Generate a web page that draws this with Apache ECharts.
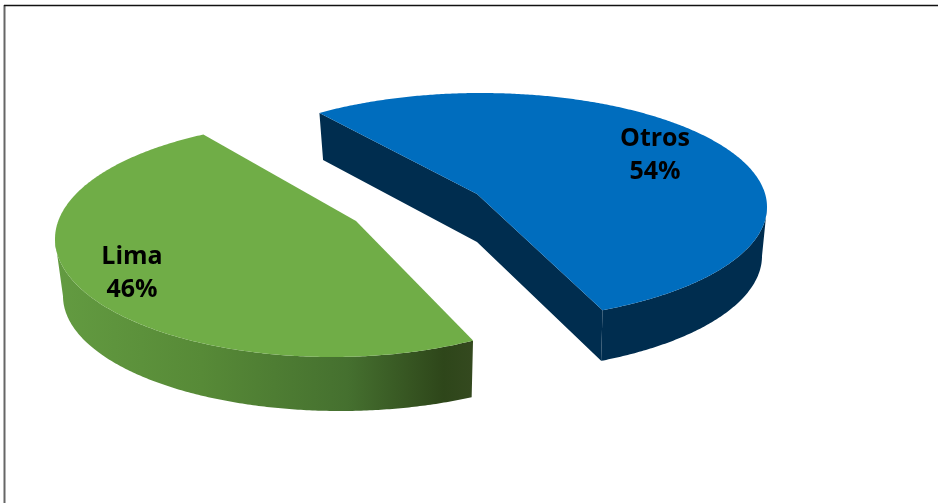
<!DOCTYPE html>
<html>
<head>
<meta charset="utf-8">
<style>html,body{margin:0;padding:0;background:#fff}#chart{width:938px;height:503px}</style>
<script src="https://cdn.jsdelivr.net/npm/echarts@6/dist/echarts.min.js"></script>
</head>
<body>
<div id="chart"></div>
<script>
// Share of the total per region
const categories = ['Otros', 'Lima'];
const shares = [54, 46];

// Angle (clockwise from straight up) where the first slice begins
const firstAngle = -37.8;

// Perspective layout of each exploded slice: rim ellipses of the top and
// bottom faces, the projected slice centre on each, and the label anchor.
const sliceLayout = {
  Otros: {
    top: { cx: 481, cy: 207, rx: 286, ry: 114, ax: 477, ay: 194 },
    bottom: { cx: 481, cy: 256, rx: 281, ry: 116, ax: 477, ay: 242 },
    twist: 0.2, label: [655, 155], color: '#006DBE', wall: '#002D4F', innerFaces: true
  },
  Lima: {
    top: { cx: 332, cy: 239, rx: 277, ry: 118, ax: 356, ay: 221 },
    bottom: { cx: 340, cy: 296, rx: 277, ry: 115, ax: 350, ay: 276 },
    twist: 1.2, label: [132, 273], color: '#70AD47',
    wall: new echarts.graphic.LinearGradient(0, 0, 1, 0, [
      { offset: 0, color: '#639B41' },
      { offset: 0.35, color: '#578A37' },
      { offset: 0.7, color: '#45702F' },
      { offset: 0.93, color: '#2E461A' },
      { offset: 1, color: '#34491F' }
    ]),
    innerFaces: false
  }
};

// Projective map of the unit disc onto a rim ellipse that sends the disc
// centre to the slice apex (relativistic velocity addition in the Klein model).
function projectRim(face, angleDeg) {
  const t = angleDeg * Math.PI / 180;
  const qx = Math.sin(t), qy = -Math.cos(t);
  const px = (face.ax - face.cx) / face.rx, py = (face.ay - face.cy) / face.ry;
  const g = 1 / Math.sqrt(1 - px * px - py * py);
  const d = px * qx + py * qy;
  const k = g / (1 + g) * d;
  const x = (px + qx / g + k * px) / (1 + d);
  const y = (py + qy / g + k * py) / (1 + d);
  return [face.cx + face.rx * x, face.cy + face.ry * y];
}

function rimPoints(face, a0, a1) {
  const pts = [];
  const n = Math.ceil(Math.abs(a1 - a0) * 2);
  for (let i = 0; i <= n; i++) pts.push(projectRim(face, a0 + (a1 - a0) * i / n));
  return pts;
}

// Index of the rim's horizontal extreme, where the side wall's silhouette begins
function extremeIndex(pts, sign) {
  let best = 0;
  pts.forEach((p, i) => { if (sign * p[0] > sign * pts[best][0]) best = i; });
  return best;
}

const total = shares.reduce((a, b) => a + b, 0);

function renderSlice(params, api) {
  const name = categories[api.value(0)];
  const layout = sliceLayout[name];
  let before = 0;
  for (let i = 0; i < params.dataIndex; i++) before += shares[i];
  const a0 = firstAngle + layout.twist + before / total * 360;
  const a1 = a0 + api.value(1) / total * 360;

  const topRim = rimPoints(layout.top, a0, a1);
  const botRim = rimPoints(layout.bottom, a0, a1);
  const children = [];

  // Outer wall: only the part of the rim that faces the viewer
  let wallPts;
  if (layout.innerFaces) {
    const it = extremeIndex(topRim, 1), ib = extremeIndex(botRim, 1);
    wallPts = topRim.slice(it).concat(botRim.slice(ib).reverse());
  } else {
    // Lima starts at its front edge, so the visible part heads the list
    const it = extremeIndex(topRim, -1), ib = extremeIndex(botRim, -1);
    wallPts = topRim.slice(0, it + 1).concat(botRim.slice(0, ib + 1).reverse());
  }
  children.push({ type: 'polygon', shape: { points: wallPts }, style: { fill: layout.wall } });

  // Cut faces along the two straight edges
  if (layout.innerFaces) {
    children.push({
      type: 'polygon',
      shape: { points: [
        topRim[0], [layout.top.ax, layout.top.ay], topRim[topRim.length - 1],
        botRim[botRim.length - 1], [layout.bottom.ax, layout.bottom.ay], botRim[0]
      ] },
      style: { fill: layout.wall }
    });
  }

  // Top face
  children.push({
    type: 'polygon',
    shape: { points: topRim.concat([[layout.top.ax, layout.top.ay]]) },
    style: { fill: layout.color }
  });

  // Name and percentage
  children.push({
    type: 'text',
    x: layout.label[0], y: layout.label[1],
    style: {
      text: name + '\n' + api.value(1) + '%',
      fill: '#000', align: 'center', verticalAlign: 'middle',
      font: 'bold 25px "Open Sans"', lineHeight: 33
    }
  });
  return { type: 'group', children };
}

const chart = echarts.init(document.getElementById('chart'));
chart.setOption({
  animation: false,
  backgroundColor: '#fff',
  tooltip: { show: false },
  graphic: [
    { type: 'line', shape: { x1: 4.5, y1: 5, x2: 4.5, y2: 503 }, style: { stroke: '#666', lineWidth: 2 }, z: 10 },
    { type: 'line', shape: { x1: 4, y1: 5.5, x2: 938, y2: 5.5 }, style: { stroke: '#111', lineWidth: 1.5 }, z: 10 }
  ],
  series: [{
    type: 'custom',
    coordinateSystem: 'none',
    renderItem: renderSlice,
    data: categories.map((c, i) => [i, shares[i]])
  }]
});
</script>
</body>
</html>
